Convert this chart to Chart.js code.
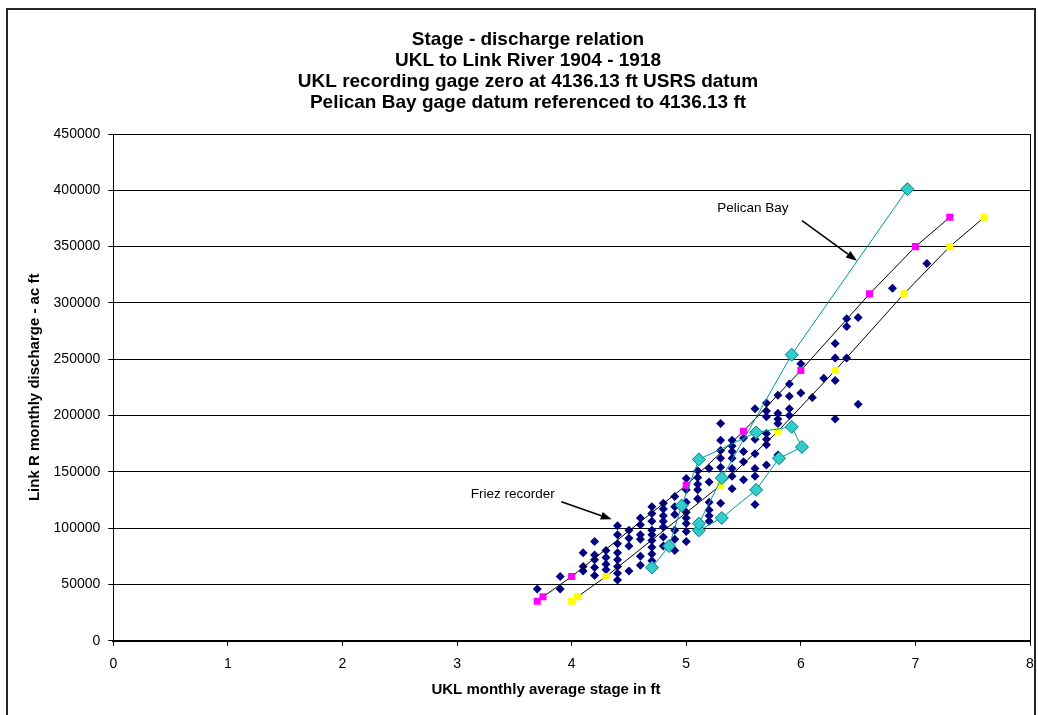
<!DOCTYPE html>
<html>
<head>
<meta charset="utf-8">
<title>Stage - discharge relation</title>
<script src="https://cdn.jsdelivr.net/npm/chart.js@4.4.1/dist/chart.umd.min.js"></script>
<style>
  html, body { margin: 0; padding: 0; background: #fff; }
  #wrap { width: 1038px; height: 715px; }
</style>
</head>
<body>
<div id="wrap"><canvas id="stageChart" width="1038" height="715"></canvas></div>
<script>
const FONT = "'Liberation Sans', Arial, sans-serif";

const titleLines = [
  "Stage - discharge relation",
  "UKL to Link River 1904 - 1918",
  "UKL recording gage zero at 4136.13 ft USRS datum",
  "Pelican Bay gage datum referenced to 4136.13 ft"
];
const xTitle = "UKL monthly average stage in ft";
const yTitle = "Link R monthly discharge - ac ft";

const stageTicks = [0, 1, 2, 3, 4, 5, 6, 7, 8];
const flowTicks = [0, 50000, 100000, 150000, 200000, 250000, 300000, 350000, 400000, 450000];

// Friez recorder: monthly records grouped by stage (ft)
const friezStage = [3.7, 3.9, 4.1, 4.2, 4.3, 4.4, 4.5, 4.6, 4.7, 4.8, 4.9, 5.0, 5.1, 5.2, 5.3,
  5.4, 5.5, 5.6, 5.7, 5.8, 5.9, 6.0, 6.1, 6.2, 6.3, 6.4, 6.5, 6.8, 7.1];
const friezFlow = [
  [46000],
  [57000, 46000],
  [78000, 66000, 62000],
  [88000, 76000, 72000, 65000, 58000],
  [80000, 74000, 68000, 63000],
  [102000, 94000, 86000, 78000, 72000, 66000, 60000, 54000],
  [98000, 91000, 84000, 62000],
  [109000, 103000, 94000, 90000, 75000, 67000],
  [119000, 113000, 106000, 98000, 94000, 89000, 83000, 77000, 71000],
  [122000, 117000, 111000, 106000, 101000, 92000, 84000],
  [128000, 119000, 112000, 98000, 90000, 80000],
  [144000, 134000, 123000, 114000, 109000, 104000, 97000, 88000],
  [151000, 145000, 139000, 134000, 126000],
  [153000, 141000, 123000, 116000, 111000, 106000],
  [193000, 178000, 169000, 162000, 154000, 122000],
  [178000, 173000, 168000, 162000, 153000, 146000, 135000],
  [180000, 168000, 159000, 143000],
  [206000, 179000, 166000, 153000, 146000, 121000],
  [211000, 204000, 199000, 184000, 179000, 174000, 156000],
  [218000, 202000, 197000, 193000, 165000],
  [228000, 217000, 206000, 200000],
  [246000, 220000],
  [216000],
  [233000],
  [264000, 251000, 231000, 197000],
  [286000, 279000, 251000],
  [287000, 210000],
  [313000],
  [335000]
];

// Two rating curves sharing the same discharge steps
const ratingFlow = [35000, 39000, 57000, 138000, 186000, 240000, 308000, 350000, 376000];
const ratingStageA = [3.7, 3.75, 4.0, 5.0, 5.5, 6.0, 6.6, 7.0, 7.3];
const ratingStageB = [4.0, 4.05, 4.3, 5.3, 5.8, 6.3, 6.9, 7.3, 7.6];

// Pelican Bay gage, in record order
const pelicanStage = [4.70, 4.85, 4.96, 5.11, 5.61, 5.92, 6.01, 5.81, 5.61, 5.31, 5.11, 5.11, 5.31, 5.92, 6.93];
const pelicanFlow = [65000, 84000, 120000, 161000, 185000, 190000, 172000, 162000, 134000, 109000,
  98000, 104000, 144500, 254000, 401000];

// Callout labels with arrows, in data units
const callouts = [
  { text: "Pelican Bay", at: [5.27, 384000], from: [6.01, 373000], to: [6.49, 337500] },
  { text: "Friez recorder", at: [3.12, 130000], from: [3.91, 123400], to: [4.35, 107800] }
];

function toPoints(xs, ys) {
  return xs.map((x, i) => ({ x, y: ys[i] }));
}

const friezPoints = friezStage.flatMap((x, i) => friezFlow[i].map(y => ({ x, y })));

function drawArrow(ctx, x1, y1, x2, y2) {
  const a = Math.atan2(y2 - y1, x2 - x1);
  const len = 11, half = 4;
  ctx.beginPath();
  ctx.moveTo(x1, y1);
  ctx.lineTo(x2 - len * Math.cos(a), y2 - len * Math.sin(a));
  ctx.stroke();
  ctx.beginPath();
  ctx.moveTo(x2, y2);
  ctx.lineTo(x2 - len * Math.cos(a) + half * Math.sin(a), y2 - len * Math.sin(a) - half * Math.cos(a));
  ctx.lineTo(x2 - len * Math.cos(a) - half * Math.sin(a), y2 - len * Math.sin(a) + half * Math.cos(a));
  ctx.closePath();
  ctx.fill();
}

const decorations = {
  id: "decorations",
  beforeDraw(chart) {
    const ctx = chart.ctx;
    ctx.save();
    ctx.fillStyle = "#fff";
    ctx.fillRect(0, 0, chart.width, chart.height);
    ctx.strokeStyle = "#262626";
    ctx.lineWidth = 2;
    ctx.strokeRect(7, 9, 1028, 730);
    ctx.restore();
  },
  afterDraw(chart) {
    const ctx = chart.ctx;
    const area = chart.chartArea;
    const xs = chart.scales.x, ys = chart.scales.y;
    ctx.save();

    // right edge of the plot area
    ctx.strokeStyle = "#000";
    ctx.lineWidth = 1;
    ctx.beginPath();
    ctx.moveTo(Math.round(area.right) + 0.5, area.top);
    ctx.lineTo(Math.round(area.right) + 0.5, area.bottom);
    ctx.stroke();

    // axis titles
    ctx.fillStyle = "#000";
    ctx.font = "bold 15px " + FONT;
    ctx.textAlign = "center";
    ctx.textBaseline = "middle";
    ctx.fillText(xTitle, 546, 690);
    ctx.translate(35, (area.top + area.bottom) / 2);
    ctx.rotate(-Math.PI / 2);
    ctx.fillText(yTitle, 0, 0);
    ctx.restore();

    // callouts
    ctx.save();
    ctx.fillStyle = "#000";
    ctx.strokeStyle = "#000";
    ctx.lineWidth = 1.5;
    ctx.font = "13.5px " + FONT;
    ctx.textAlign = "left";
    ctx.textBaseline = "middle";
    callouts.forEach(c => {
      ctx.fillText(c.text, xs.getPixelForValue(c.at[0]), ys.getPixelForValue(c.at[1]));
      drawArrow(ctx,
        xs.getPixelForValue(c.from[0]), ys.getPixelForValue(c.from[1]),
        xs.getPixelForValue(c.to[0]), ys.getPixelForValue(c.to[1]));
    });
    ctx.restore();
  }
};

const ctx = document.getElementById("stageChart");
new Chart(ctx, {
  type: "scatter",
  data: {
    datasets: [
      {
        label: "Pelican Bay",
        data: toPoints(pelicanStage, pelicanFlow),
        showLine: true,
        borderColor: "#009999",
        borderWidth: 1,
        pointStyle: "rectRot",
        pointRadius: 6.5,
        pointBackgroundColor: "#33CCCC",
        pointBorderColor: "#008080",
        pointBorderWidth: 1,
        order: 0
      },
      {
        label: "Rating A",
        data: toPoints(ratingStageA, ratingFlow),
        showLine: true,
        borderColor: "#000",
        borderWidth: 1,
        pointStyle: "rect",
        pointRadius: 5,
        pointBackgroundColor: "#FF00FF",
        pointBorderColor: "#FF00FF",
        pointBorderWidth: 0,
        order: 1
      },
      {
        label: "Rating B",
        data: toPoints(ratingStageB, ratingFlow),
        showLine: true,
        borderColor: "#000",
        borderWidth: 1,
        pointStyle: "rect",
        pointRadius: 5,
        pointBackgroundColor: "#FFFF00",
        pointBorderColor: "#FFFF00",
        pointBorderWidth: 0,
        order: 2
      },
      {
        label: "Friez recorder",
        data: friezPoints,
        showLine: false,
        pointStyle: "rectRot",
        pointRadius: 4.5,
        pointBackgroundColor: "#000080",
        pointBorderColor: "#000080",
        pointBorderWidth: 0,
        order: 3
      }
    ]
  },
  options: {
    responsive: false,
    animation: false,
    events: [],
    layout: { padding: { left: 26, right: 8, top: 0, bottom: 0 } },
    plugins: {
      legend: { display: false },
      tooltip: { enabled: false },
      title: {
        display: true,
        text: titleLines,
        color: "#000",
        font: { family: FONT, size: 19, weight: "bold", lineHeight: "21px" },
        padding: { top: 29.5, bottom: 20.5 }
      }
    },
    scales: {
      x: {
        type: "linear",
        min: 0,
        max: 8,
        afterBuildTicks: s => { s.ticks = stageTicks.map(v => ({ value: v })); },
        afterFit: s => { s.height = 74.3; s.paddingLeft = 0; s.paddingRight = 0; },
        grid: { drawOnChartArea: false, drawTicks: true, tickLength: 5, color: "#000" },
        border: { color: "#000", width: 2 },
        ticks: { color: "#000", padding: 10, font: { family: FONT, size: 14 }, callback: v => String(v) }
      },
      y: {
        type: "linear",
        min: 0,
        max: 450000,
        afterBuildTicks: s => { s.ticks = flowTicks.map(v => ({ value: v })); },
        afterFit: s => { s.width = 87.3; },
        grid: { color: "#000", lineWidth: 1, tickLength: 5 },
        border: { color: "#000", width: 1 },
        ticks: { color: "#000", padding: 8, font: { family: FONT, size: 14 }, callback: v => String(v) }
      }
    }
  },
  plugins: [decorations]
});
</script>
</body>
</html>
